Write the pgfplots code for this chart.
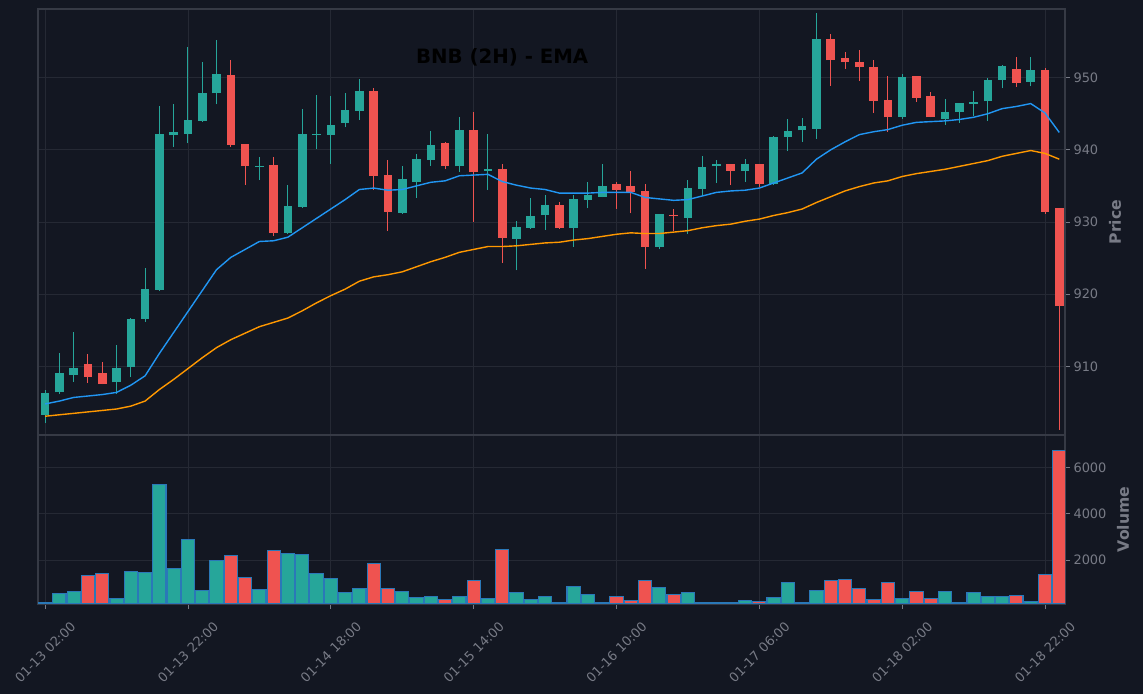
\documentclass[border=0pt]{standalone}
\usepackage{fontspec}
\setmainfont{DejaVu Sans}
\usepackage{pgfplots}
\pgfplotsset{compat=1.18}
\usepackage{pgfplotstable}
\definecolor{bg}{HTML}{131722}
\definecolor{upc}{HTML}{26A69A}
\definecolor{dnc}{HTML}{EF5350}
\definecolor{gridc}{HTML}{252934}
\definecolor{spine}{HTML}{363A45}
\definecolor{txt}{HTML}{787B86}
\definecolor{emaA}{HTML}{2196F3}
\definecolor{emaB}{HTML}{FF9800}
\definecolor{vedge}{HTML}{2A78B8}

\pgfplotstableread{
i o h l c v
0 903.3 906.8 902.1 906.3 140
1 906.4 911.8 906.2 909.1 557
2 908.8 914.8 907.9 909.8 644
5 907.8 912.9 906.2 909.8 341
6 909.9 916.7 908.5 916.5 1510
7 916.6 923.6 916.2 920.7 1467
8 920.6 946.0 920.5 942.2 5276
9 942.0 946.3 940.4 942.4 1639
10 942.2 954.2 940.9 944.1 2897
11 944.0 952.1 943.9 947.8 687
12 947.8 955.2 946.3 950.5 1986
15 937.6 939.0 935.8 937.8 730
17 928.5 935.1 928.4 932.2 2289
18 932.1 945.6 932.0 942.2 2246
19 942.0 947.6 940.1 942.2 1423
20 942.1 947.4 938.1 943.5 1206
21 943.7 947.9 943.1 945.5 600
22 945.4 949.8 944.1 948.2 773
25 931.3 937.8 931.1 935.9 629
26 935.6 939.4 933.3 938.7 384
27 938.6 942.6 937.8 940.6 427
29 937.7 944.5 936.9 942.8 427
31 937.1 942.2 934.5 937.3 341
33 927.7 930.1 923.3 929.3 600
34 929.2 933.3 929.0 930.8 283
35 930.9 933.8 928.9 932.3 427
37 929.2 933.8 926.6 933.2 860
38 933.1 935.6 931.9 933.7 514
39 933.5 938.0 933.4 935.0 167
43 926.6 931.1 926.2 931.1 817
45 930.6 935.8 928.4 934.7 600
46 934.6 939.2 933.6 937.6 153
47 937.7 938.6 935.4 938.0 153
49 937.1 938.7 935.6 938.0 240
51 935.3 941.9 935.1 941.8 384
52 941.8 944.3 939.8 942.6 1033
53 942.7 944.4 941.1 943.3 153
54 942.9 958.9 941.5 955.4 687
60 944.6 950.5 944.3 950.1 341
63 944.3 947.1 943.5 945.2 629
64 945.3 946.5 943.7 946.5 153
65 946.4 948.2 944.7 946.6 586
66 946.7 950.0 944.0 949.7 427
67 949.7 951.8 948.5 951.6 427
69 949.4 952.8 948.8 951.1 211
}\up

\pgfplotstableread{
i o h l c v
3 910.3 911.7 907.7 908.6 1336
4 909.1 910.6 907.5 907.6 1423
13 950.3 952.4 940.4 940.7 2203
14 940.8 940.8 935.1 937.7 1250
16 937.9 939.0 928.1 928.5 2418
23 948.2 948.6 934.4 936.4 1856
24 936.5 938.6 928.8 931.4 759
28 940.9 941.1 937.3 937.7 283
30 942.8 945.3 930.0 936.9 1105
32 937.4 938.0 924.3 927.8 2462
36 932.3 932.8 929.0 929.2 153
40 935.2 935.6 931.8 934.5 427
41 935.0 937.0 931.2 934.1 240
42 934.3 935.3 923.5 926.6 1105
44 930.9 931.8 928.7 930.8 514
48 938.1 938.1 935.1 937.1 153
50 938.0 938.0 934.9 935.3 196
55 955.4 956.0 948.9 952.4 1105
56 952.7 953.6 951.2 952.1 1148
57 952.2 953.8 949.5 951.4 773
58 951.5 952.4 945.1 946.8 283
59 946.9 950.2 942.5 944.5 1019
61 950.2 950.2 946.6 947.2 629
62 947.5 948.0 944.5 944.5 326
68 951.2 952.8 948.7 949.3 470
70 951.1 951.3 931.1 931.4 1380
71 932.0 932.0 901.2 918.3 6733
}\dn

\pgfplotstableread{
i a b
0 904.8 903.1
1 905.2 903.3
2 905.7 903.5
3 905.9 903.7
4 906.1 903.9
5 906.4 904.1
6 907.4 904.5
7 908.7 905.2
8 911.8 906.8
9 914.7 908.2
10 917.6 909.7
11 920.5 911.2
12 923.4 912.6
13 925.1 913.7
14 926.2 914.6
15 927.3 915.5
16 927.4 916.1
17 927.9 916.7
18 929.2 917.7
19 930.5 918.8
20 931.8 919.8
21 933.1 920.7
22 934.5 921.8
23 934.7 922.4
24 934.4 922.7
25 934.5 923.1
26 935.0 923.8
27 935.5 924.5
28 935.7 925.1
29 936.4 925.8
30 936.5 926.2
31 936.6 926.6
32 935.6 926.6
33 935.1 926.7
34 934.7 926.9
35 934.5 927.1
36 934.0 927.2
37 934.0 927.5
38 934.0 927.7
39 934.1 928.0
40 934.1 928.3
41 934.1 928.5
42 933.4 928.4
43 933.2 928.4
44 933.0 928.6
45 933.1 928.8
46 933.6 929.2
47 934.1 929.5
48 934.3 929.7
49 934.4 930.1
50 934.7 930.4
51 935.4 930.9
52 936.1 931.3
53 936.8 931.8
54 938.7 932.7
55 940.0 933.5
56 941.1 934.3
57 942.1 934.9
58 942.5 935.4
59 942.8 935.7
60 943.4 936.3
61 943.8 936.7
62 943.9 937.0
63 944.0 937.3
64 944.2 937.7
65 944.5 938.1
66 945.0 938.5
67 945.7 939.1
68 946.0 939.5
69 946.4 939.9
70 945.1 939.5
71 942.4 938.7
}\ema

\pgfplotsset{
  common/.style={
    scale only axis, width=1027bp,
    xmin=-0.5, xmax=71.4,
    axis background/.style={fill=bg},
    axis line style={draw=spine, line width=1.5bp},
    grid=major, grid style={draw=gridc, line width=0.9bp},
    xtick={0,10,...,70},
    ticklabel style={font=\fontsize{13}{15}\selectfont, text=txt},
    /pgf/number format/assume math mode=true,
    /pgf/number format/1000 sep={},
    yticklabel pos=right, ytick pos=right, xtick pos=bottom,
    tick align=outside, major tick length=5bp,
    tick style={draw=txt, line width=0.9bp},
    clip=true,
  },
  candle/.style 2 args={forget plot, only marks, mark=*, mark size=0pt,
    mark options={draw=none, fill=none},
    error bars/.cd, y dir=plus, y explicit, error mark=none,
    error bar style={draw=#1, solid, line width=#2}},
}

\begin{document}
\begin{tikzpicture}
\fill[bg] (0,0) rectangle (1143bp,694bp);
\useasboundingbox (0,0) rectangle (1143bp,694bp);

\begin{axis}[common,
  at={(38bp,259bp)}, anchor=south west, height=426bp,
  ymin=900.5, ymax=959.5,
  ytick={910,920,930,940,950},
  xticklabels={}, xtick style={draw=none},
  ylabel={\bfseries Price},
  every axis y label/.style={at={(rel axis cs:1,0.5)}, xshift=50bp, rotate=90, anchor=center,
     font=\fontsize{15.7}{18}\selectfont, text=txt},
  title={BNB (2H) - EMA},
  every axis title/.style={at={(rel axis cs:0.452,0.873)}, anchor=base, inner sep=0pt,
     font=\bfseries\fontsize{19.8}{22}\selectfont, text=black},
]
% wicks
\addplot[candle={upc}{1bp}]
  table[x=i, y=l, y error plus expr=\thisrow{h}-\thisrow{l}] {\up};
\addplot[candle={dnc}{1bp}]
  table[x=i, y=l, y error plus expr=\thisrow{h}-\thisrow{l}] {\dn};
% bodies
\addplot[candle={upc}{8.6bp}]
  table[x=i, y=o, y error plus expr=\thisrow{c}-\thisrow{o}] {\up};
\addplot[candle={dnc}{8.6bp}]
  table[x=i, y=c, y error plus expr=\thisrow{o}-\thisrow{c}] {\dn};
% EMAs
\addplot[emaA, line width=1.4bp, mark=none] table[x=i, y=a] {\ema};
\addplot[emaB, line width=1.4bp, mark=none] table[x=i, y=b] {\ema};
\end{axis}

\begin{axis}[common,
  at={(38bp,90bp)}, anchor=south west, height=169bp,
  ymin=95, ymax=7411,
  ytick={2000,4000,6000},
  xticklabels={01-13 02:00, 01-13 22:00, 01-14 18:00, 01-15 14:00, 01-16 10:00, 01-17 06:00, 01-18 02:00, 01-18 22:00},
  xticklabel style={yshift=-43bp, rotate=45, anchor=center},
  ylabel={\bfseries Volume},
  every axis y label/.style={at={(rel axis cs:1,0.5)}, xshift=58bp, rotate=90, anchor=center,
     font=\fontsize{15.7}{18}\selectfont, text=txt},
]
\addplot[ybar, bar width=13.2bp, bar shift=0pt, fill=upc, draw=vedge, line width=1.1bp] table[x=i, y=v] {\up};
\addplot[ybar, bar width=13.2bp, bar shift=0pt, fill=dnc, draw=vedge, line width=1.1bp] table[x=i, y=v] {\dn};
\end{axis}
\end{tikzpicture}
\end{document}
